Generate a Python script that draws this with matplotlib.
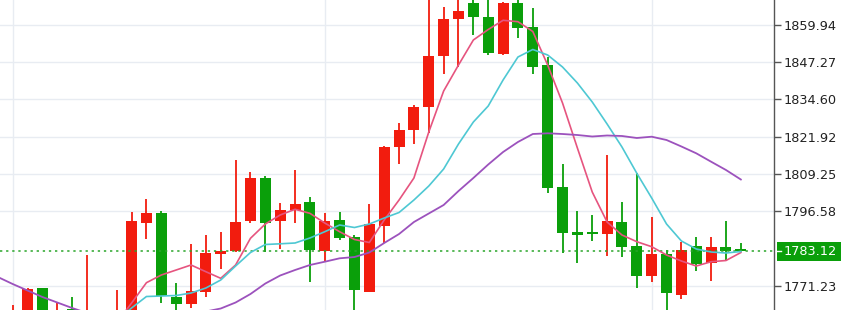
import matplotlib
matplotlib.use('Agg')
import matplotlib.pyplot as plt
import matplotlib.transforms as mtransforms
from matplotlib.patches import Rectangle
import numpy as np

nan = np.nan

# OHLC of the 50 visible candles (index 0 .. 49)
opens = [1757.0, 1759.0, 1770.4, 1758.0, 1763.2, 1755.0, 1754.0, 1752.0, 1758.0, 1792.67,
         1795.86, 1767.48, 1765.0, 1769.18, 1781.91, 1783.03, 1793.24, 1807.98, 1793.24, 1796.99,
         1799.71, 1783.14, 1793.58, 1787.70, 1769.18, 1791.54, 1818.32, 1824.21, 1831.94, 1849.39,
         1861.88, 1867.53, 1862.77, 1849.97, 1867.33, 1859.16, 1846.33, 1804.71, 1789.40, 1789.60,
         1788.72, 1793.01, 1784.84, 1774.43, 1781.91, 1768.23, 1784.80, 1779.02, 1784.50, 1783.55]
highs = [1764.66, 1770.6, 1770.6, 1765.2, 1767.3, 1781.7, 1761.0, 1769.8, 1796.3, 1800.63,
         1796.65, 1772.25, 1785.32, 1788.48, 1789.60, 1814.0, 1810.02, 1808.56, 1799.27, 1810.60,
         1801.31, 1796.07, 1796.41, 1788.48, 1799.03, 1818.8, 1826.70, 1832.72, 1871.0, 1865.97,
         1870.0, 1870.0, 1870.0, 1867.87, 1870.0, 1865.63, 1848.95, 1812.57, 1796.65, 1795.29,
         1815.70, 1799.61, 1809.48, 1794.50, 1783.37, 1786.20, 1787.90, 1787.90, 1793.35, 1785.65]
lows = [1752.0, 1756.0, 1755.0, 1755.0, 1756.0, 1752.0, 1750.0, 1750.0, 1756.0, 1787.02,
        1765.24, 1762.0, 1763.54, 1767.48, 1776.81, 1782.7, 1792.67, 1782.80, 1783.82, 1792.67,
        1772.32, 1779.63, 1786.78, 1762.0, 1769.0, 1785.65, 1812.64, 1819.45, 1823.09, 1843.27,
        1845.75, 1856.54, 1849.73, 1849.8, 1855.42, 1843.27, 1802.67, 1782.25, 1778.85, 1786.44,
        1781.33, 1781.09, 1770.55, 1772.59, 1762.5, 1766.60, 1776.23, 1772.66, 1779.97, 1782.9]
closes = [1762.0, 1770.0, 1758.0, 1762.0, 1759.0, 1761.0, 1758.0, 1759.0, 1793.1, 1795.86,
          1767.82, 1764.90, 1769.42, 1782.25, 1783.03, 1792.80, 1807.77, 1792.67, 1796.99, 1799.03,
          1783.37, 1793.35, 1787.56, 1769.76, 1792.12, 1818.53, 1824.21, 1831.94, 1849.50, 1861.98,
          1864.81, 1862.56, 1850.31, 1867.33, 1858.82, 1845.55, 1804.37, 1789.06, 1788.65, 1788.75,
          1793.24, 1784.50, 1774.53, 1781.91, 1768.64, 1783.48, 1778.51, 1784.23, 1782.93, 1783.12]

# moving averages (index 0 .. 49)
ma_fast = [nan, nan, nan, nan, nan, nan, nan, 1758.53, 1765.34, 1772.25,
           1774.87, 1776.57, 1778.27, 1775.99, 1773.74, 1778.27, 1787.36, 1792.22, 1795.29, 1797.23,
           1795.86, 1792.56, 1789.60, 1786.95, 1785.93, 1793.58, 1800.39, 1807.88, 1823.53, 1837.48,
           1846.33, 1854.84, 1858.41, 1861.54, 1861.07, 1857.73, 1846.33, 1833.40, 1818.09, 1803.11,
           1792.90, 1788.48, 1786.20, 1784.50, 1781.67, 1779.63, 1777.93, 1779.39, 1779.80, 1782.52]
ma_mid = [nan, nan, nan, nan, nan, nan, nan, 1759.55, 1763.64, 1767.55,
          1767.72, 1767.89, 1768.74, 1770.44, 1773.17, 1777.93, 1782.52, 1785.25, 1785.49, 1785.76,
          1787.46, 1789.60, 1791.88, 1791.03, 1792.22, 1794.26, 1796.14, 1800.39, 1805.15, 1810.94,
          1819.45, 1826.93, 1832.38, 1841.23, 1849.05, 1851.61, 1849.73, 1845.65, 1840.21, 1833.74,
          1826.25, 1818.43, 1809.48, 1801.07, 1792.22, 1786.44, 1783.72, 1782.69, 1782.35, 1782.87]
# slow average starts one candle before the first visible one (index -1 .. 49)
ma_slow = [1774.19, 1771.80, 1769.59, 1767.38, 1765.51, 1763.64, 1761.94, 1760.91, 1760.23, 1759.90,
           1759.90, 1760.23, 1760.57, 1761.26, 1762.45, 1763.47, 1765.51, 1768.40, 1771.97, 1774.70,
           1776.57, 1778.27, 1779.39, 1780.55, 1780.99, 1782.52, 1785.76, 1788.82, 1792.90, 1795.80,
           1798.69, 1803.45, 1807.88, 1812.47, 1816.72, 1820.13, 1822.85, 1823.09, 1822.85, 1822.51,
           1822.00, 1822.34, 1822.17, 1821.49, 1821.93, 1820.81, 1818.60, 1816.28, 1813.42, 1810.60,
           1807.37]

tick_values = [1859.94, 1847.27, 1834.60, 1821.92, 1809.25, 1796.58, 1771.23]
tick_labels = ['1859.94', '1847.27', '1834.60', '1821.92', '1809.25', '1796.58', '1771.23']
last_price = 1783.12
vgrid_idx = [0, 21, 43]

UP = '#f21c0e'
DOWN = '#0a9f0a'

W, H, DPI = 841, 310, 100
fig = plt.figure(figsize=(W / DPI, H / DPI), dpi=DPI)
ax = fig.add_axes([0, 0, 774 / W, 1])

x = np.arange(len(opens))
o = np.array(opens)
c = np.array(closes)
colors = [UP if cc > oo else DOWN for oo, cc in zip(o, c)]

# grid
for v in tick_values:
    ax.axhline(v, color='#e8ecf2', linewidth=1, zorder=0)
for gi in vgrid_idx:
    ax.axvline(gi, color='#e8ecf2', linewidth=1, zorder=0)

# candles
ax.vlines(x, lows, highs, colors=colors, linewidth=1.3, zorder=2)
body = np.maximum(np.abs(c - o), 0.45)
ax.bar(x, body, bottom=np.minimum(o, c), width=0.74, color=colors, linewidth=0, zorder=2)

# current price line
ax.axhline(last_price, color='#2aa52a', linewidth=1.1, linestyle=(0, (1.5, 2.5)), zorder=3)

# moving averages
ax.plot(x, ma_fast, color='#e6547f', linewidth=1.2, zorder=4)
ax.plot(x, ma_mid, color='#4ec8d3', linewidth=1.2, zorder=4)
ax.plot(np.arange(-1, len(ma_slow) - 1), ma_slow, color='#9c52bd', linewidth=1.3, zorder=4)

ax.set_xlim(-12.7 / 14.86, (774 - 12.7) / 14.86)
ax.set_ylim(1762.96, 1868.45)

for s in ['left', 'top', 'bottom']:
    ax.spines[s].set_visible(False)
ax.spines['right'].set_color('#555555')
ax.spines['right'].set_linewidth(1)
ax.set_xticks([])
ax.yaxis.tick_right()
ax.set_yticks(tick_values)
ax.set_yticklabels(tick_labels)
ax.tick_params(axis='y', length=5, width=1, color='#555555', pad=2,
               labelsize=9.3, labelcolor='#222222')

# price tag on the axis
blend = mtransforms.blended_transform_factory(fig.transFigure, ax.transData)
tag_h = 19.4 * (1868.45 - 1762.96) / H
ax.add_patch(Rectangle((776.5 / W, 1782.8 - tag_h / 2), (W - 776.5) / W, tag_h,
                       transform=blend, facecolor=DOWN, edgecolor='none', clip_on=False, zorder=5))
ax.plot([775.5 / W, 780.5 / W], [last_price, last_price], transform=blend, color='white',
        linewidth=1, clip_on=False, zorder=6)
ax.text(783.5 / W, 1782.8, '%.2f' % last_price, transform=blend, color='white',
        fontsize=9.3, ha='left', va='center', zorder=6, clip_on=False)

fig.savefig('out.png', dpi=DPI)
